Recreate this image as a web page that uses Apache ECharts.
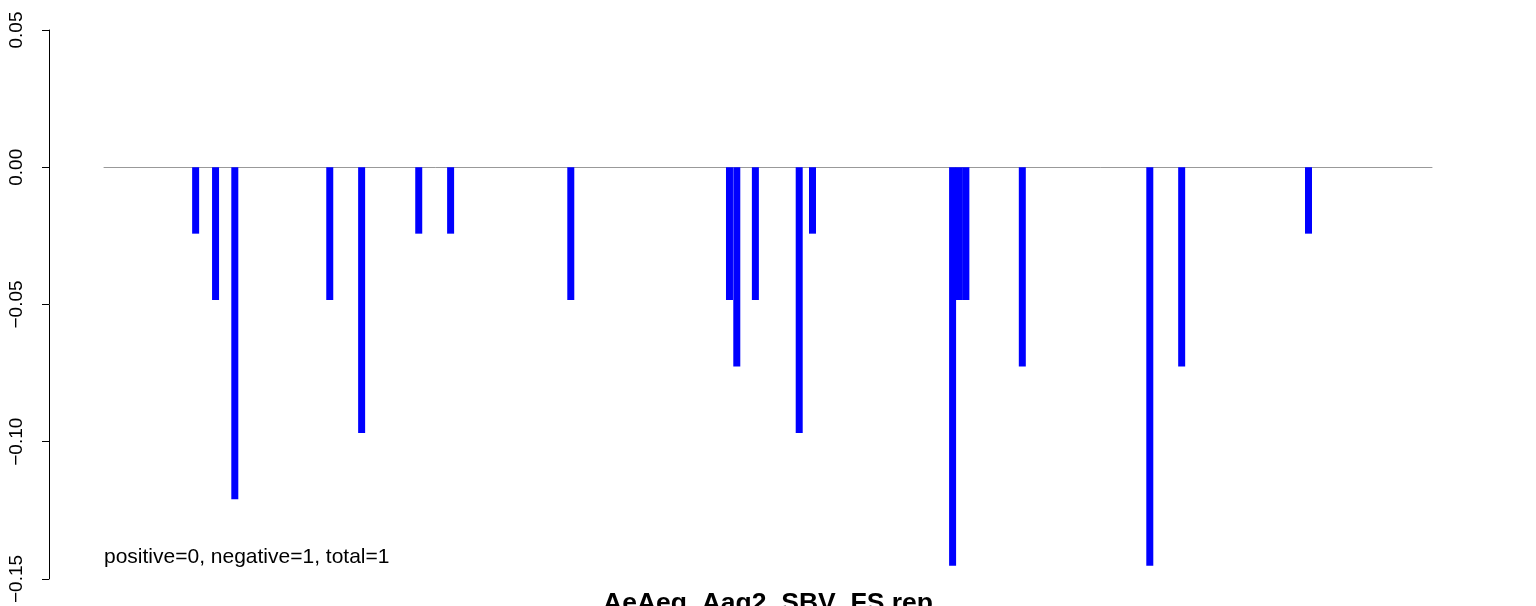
<!DOCTYPE html>
<html>
<head>
<meta charset="utf-8">
<script src="https://cdn.jsdelivr.net/npm/echarts@6/dist/echarts.min.js"></script>
<style>
html,body{margin:0;padding:0;background:#fff;}
#chart{width:1536px;height:606px;}
</style>
</head>
<body>
<div id="chart"></div>
<script>
// Bar positions along the (unlabelled) x scale, 0..200
var positions = [13.8, 16.8, 19.7, 34.0, 38.8, 47.4, 52.2, 70.3, 94.2, 95.3, 98.1, 104.7, 106.7, 127.8, 128.8, 129.8, 138.3, 157.5, 162.3, 181.4];
// Bar values
var values = [-0.0242, -0.0484, -0.1210, -0.0484, -0.0968, -0.0242, -0.0242, -0.0484, -0.0484, -0.0726, -0.0484, -0.0968, -0.0242, -0.1452, -0.0484, -0.0484, -0.0726, -0.1452, -0.0726, -0.0242];
var yTicks = [-0.15, -0.10, -0.05, 0.00, 0.05];
var xRange = [0, 200];
var titleText = 'AeAeg_Aag2_SBV_FS.rep';
var noteText = 'positive=0, negative=1, total=1';

var barData = positions.map(function (p, i) { return [p, values[i]]; });

var chart = echarts.init(document.getElementById('chart'), null, {renderer: 'canvas'});
var FONT = 'Liberation Sans, Arial, Helvetica, sans-serif';
chart.setOption({
  animation: false,
  backgroundColor: '#ffffff',
  grid: {left: 104, right: 104, top: 30, bottom: 27, containLabel: false},
  xAxis: {
    type: 'value', min: xRange[0], max: xRange[1],
    axisLine: {show: true, onZero: true, lineStyle: {color: '#999999', width: 1}},
    axisTick: {show: false}, axisLabel: {show: false}, splitLine: {show: false}
  },
  yAxis: {
    type: 'value', min: yTicks[0], max: yTicks[yTicks.length - 1], interval: 0.05,
    offset: 55,
    axisLine: {show: true, onZero: false, lineStyle: {color: '#000', width: 1}},
    axisTick: {show: true, length: 7, lineStyle: {color: '#000', width: 1}},
    splitLine: {show: false},
    axisLabel: {
      rotate: 90, margin: 23, color: '#000', fontSize: 19, fontFamily: FONT,
      formatter: function (v) {
        if (Math.abs(v) < 1e-9) v = 0;
        var s = Math.abs(v).toFixed(2);
        return (v < 0 ? '\u2212' : '') + s;
      }
    }
  },
  series: [{
    type: 'bar', data: barData, barWidth: 7,
    itemStyle: {color: '#0000ff'}, z: 1
  }],
  graphic: [
    {type: 'text', left: 104, top: 547, style: {text: noteText, font: '21px ' + FONT, fill: '#000'}},
    {type: 'text', left: 'center', top: 590, style: {text: titleText, font: 'bold 26.5px ' + FONT, fill: '#000'}}
  ]
});
</script>
</body>
</html>
